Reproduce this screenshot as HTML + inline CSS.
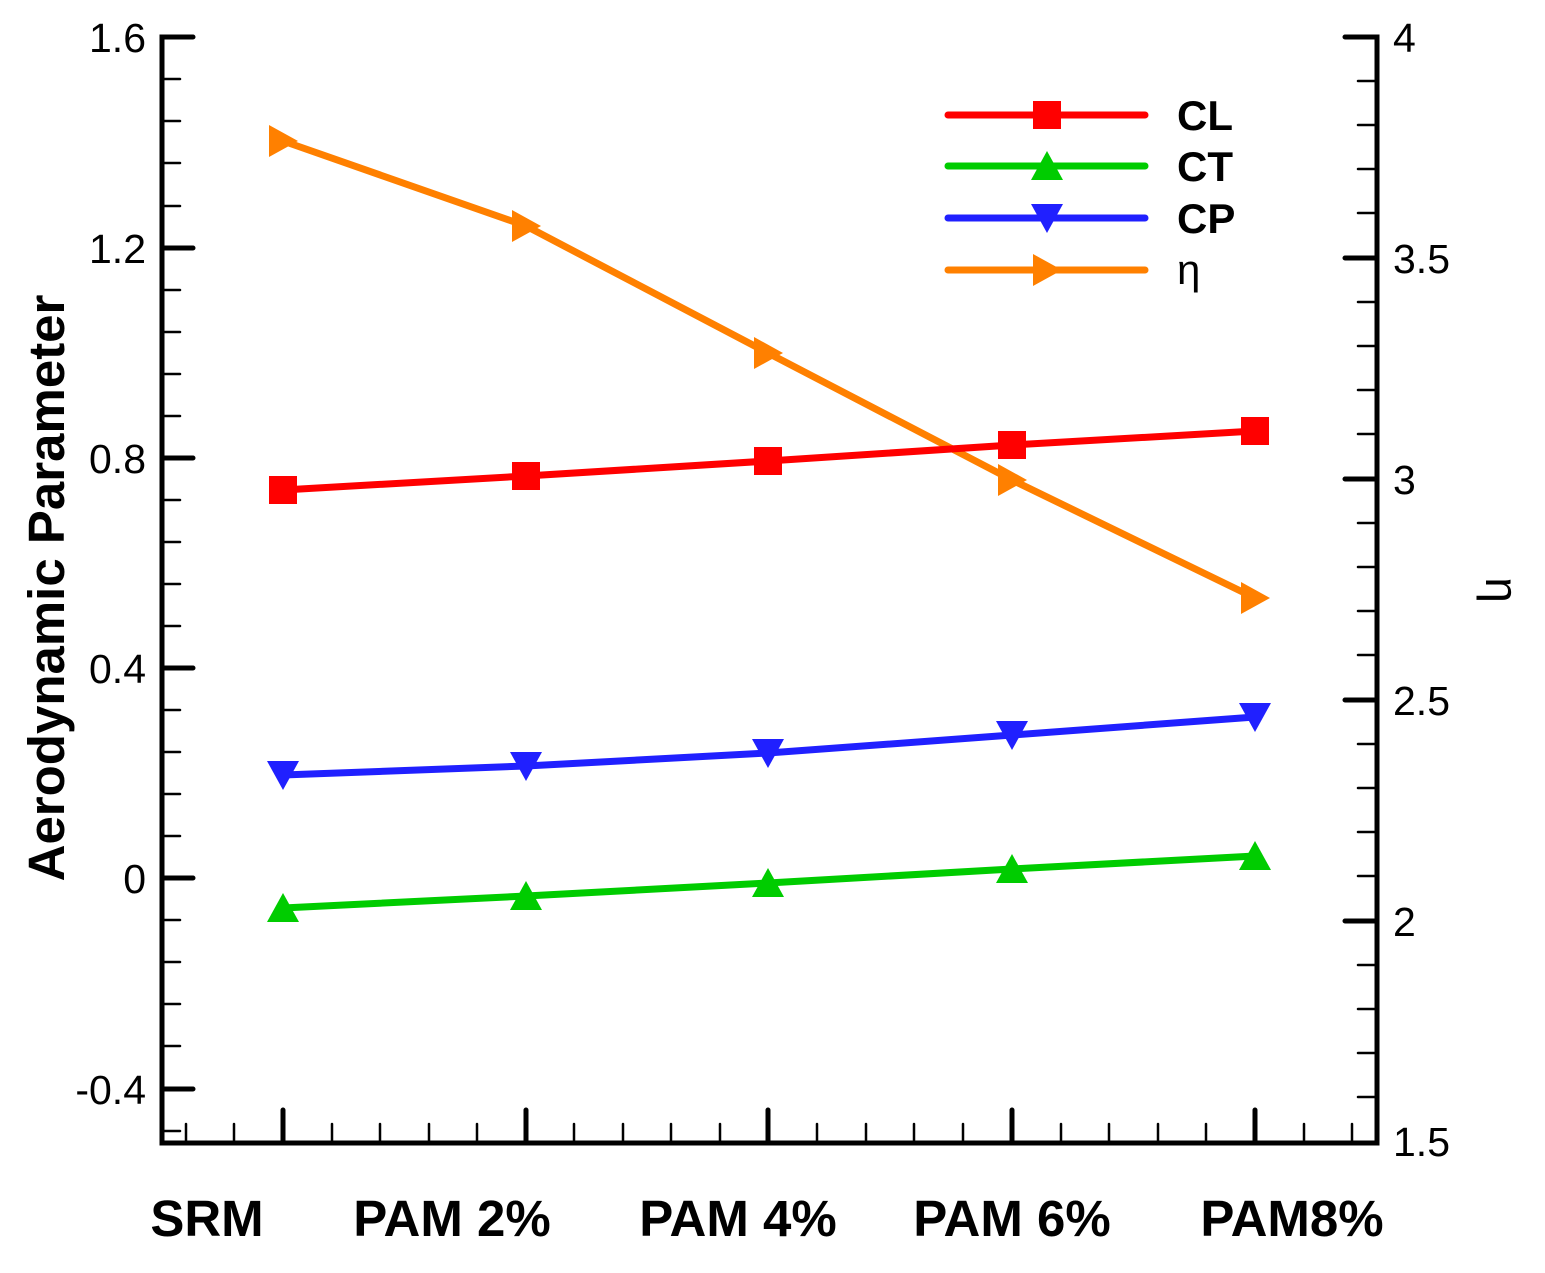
<!DOCTYPE html>
<html><head><style>body{margin:0;background:#fff}svg{display:block}text{font-family:"Liberation Sans",sans-serif}</style></head>
<body>
<svg width="1545" height="1273" viewBox="0 0 1545 1273" xmlns="http://www.w3.org/2000/svg">
<g stroke="#000" stroke-linecap="round">
<path d="M193 37H162V1143H1377V37H1345" fill="none" stroke-width="5"/>
<g stroke-width="5">
<path d="M162 248H193M162 458H193M162 668H193M162 878H193M162 1089H193"/>
<path d="M1377 258H1345M1377 479H1345M1377 700H1345M1377 921H1345"/>
<path d="M283 1141V1110M526 1141V1110M768 1141V1110M1012 1141V1110M1255 1141V1110"/>
</g>
<g stroke-width="2.5">
<path d="M162 79H180M162 121H180M162 163H180M162 206H180M162 290H180M162 332H180M162 374H180M162 416H180M162 500H180M162 542H180M162 584H180M162 626H180M162 710H180M162 752H180M162 794H180M162 836H180M162 920H180M162 962H180M162 1004H180M162 1046H180M162 1131H180"/>
<path d="M1377 81H1358M1377 125H1358M1377 169H1358M1377 213H1358M1377 302H1358M1377 346H1358M1377 390H1358M1377 434H1358M1377 523H1358M1377 567H1358M1377 611H1358M1377 655H1358M1377 744H1358M1377 788H1358M1377 832H1358M1377 876H1358M1377 965H1358M1377 1009H1358M1377 1053H1358M1377 1097H1358"/>
<path d="M186 1141V1124M234 1141V1124M332 1141V1124M380 1141V1124M429 1141V1124M477 1141V1124M574 1141V1124M623 1141V1124M671 1141V1124M720 1141V1124M817 1141V1124M866 1141V1124M914 1141V1124M963 1141V1124M1061 1141V1124M1109 1141V1124M1158 1141V1124M1206 1141V1124M1304 1141V1124M1352 1141V1124"/>
</g></g>
<g font-size="41" text-anchor="end">
<text x="146" y="52">1.6</text><text x="146" y="263">1.2</text><text x="146" y="473">0.8</text><text x="146" y="683">0.4</text><text x="146" y="893">0</text><text x="146" y="1104">-0.4</text>
</g>
<g font-size="41">
<text x="1393" y="52">4</text><text x="1393" y="273">3.5</text><text x="1393" y="494">3</text><text x="1393" y="715">2.5</text><text x="1393" y="936">2</text><text x="1393" y="1156">1.5</text>
</g>
<g font-size="51" font-weight="bold" text-anchor="middle">
<text x="207" y="1236">SRM</text><text x="452" y="1236">PAM 2%</text><text x="738" y="1236">PAM 4%</text><text x="1012" y="1236">PAM 6%</text><text x="1292" y="1236">PAM8%</text>
</g>
<text transform="translate(64,588) rotate(-90)" font-size="51" font-weight="bold" text-anchor="middle">Aerodynamic Parameter</text>
<text transform="translate(1486,590) rotate(90)" font-size="46" text-anchor="middle">η</text>
<g fill="none" stroke-width="7" stroke-linejoin="round" stroke-linecap="round">
<polyline stroke="#ff8000" points="283,141 526,226 768,353 1012,480 1255,598"/>
<polyline stroke="#ff0000" points="283,490 526,476 768,461 1012,445 1255,431"/>
<polyline stroke="#00cc00" points="283,908 526,896 768,883 1012,869 1255,856"/>
<polyline stroke="#2020ff" points="283,775 526,766 768,753 1012,735 1255,717"/>
<path stroke="#ff0000" d="M948 115H1145"/><path stroke="#00cc00" d="M948 166H1145"/><path stroke="#2020ff" d="M948 218H1145"/><path stroke="#ff8000" d="M948 270H1145"/>
</g>
<g fill="#ff0000"><rect x="269" y="476" width="28" height="28"/><rect x="512" y="462" width="28" height="28"/><rect x="754" y="447" width="28" height="28"/><rect x="998" y="431" width="28" height="28"/><rect x="1241" y="417" width="28" height="28"/><rect x="1033" y="101" width="28" height="28"/></g>
<g fill="#00cc00">
<path d="M283 893l16 29h-32z"/><path d="M526 881l16 29h-32z"/><path d="M768 868l16 29h-32z"/><path d="M1012 854l16 29h-32z"/><path d="M1255 841l16 29h-32z"/><path d="M1047 151l16 29h-32z"/></g>
<g fill="#2020ff">
<path d="M283 790l16-29h-32z"/><path d="M526 781l16-29h-32z"/><path d="M768 768l16-29h-32z"/><path d="M1012 750l16-29h-32z"/><path d="M1255 732l16-29h-32z"/><path d="M1047 233l16-29h-32z"/></g>
<g fill="#ff8000">
<path d="M298 141l-29-16v32z"/><path d="M541 226l-29-16v32z"/><path d="M783 353l-29-16v32z"/><path d="M1027 480l-29-16v32z"/><path d="M1270 598l-29-16v32z"/><path d="M1062 270l-29-16v32z"/></g>
<g font-size="42" font-weight="bold"><text x="1177" y="130">CL</text><text x="1177" y="181">CT</text><text x="1177" y="233">CP</text></g>
<text x="1177" y="284" font-size="42">η</text>
</svg>
</body></html>
